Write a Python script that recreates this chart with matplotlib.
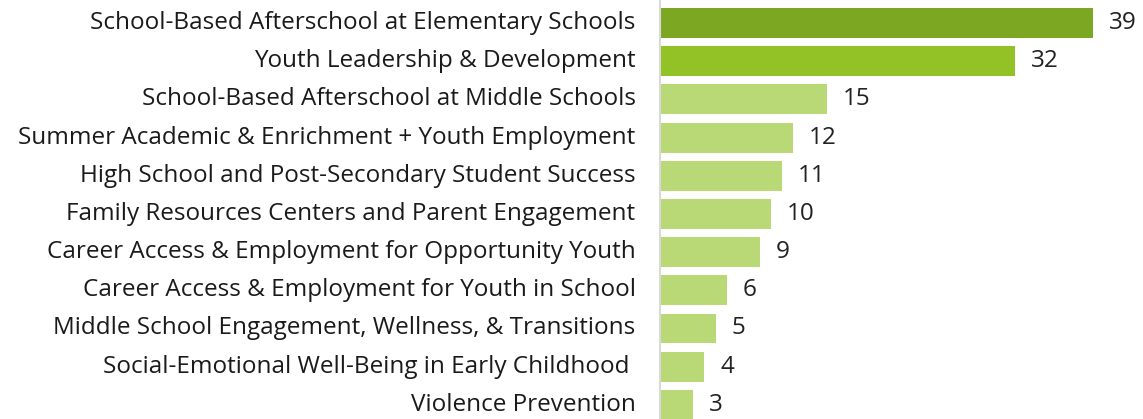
import matplotlib
matplotlib.use("Agg")
import matplotlib.pyplot as plt

# Data
programs = [
    "School-Based Afterschool at Elementary Schools",
    "Youth Leadership & Development",
    "School-Based Afterschool at Middle Schools",
    "Summer Academic & Enrichment + Youth Employment",
    "High School and Post-Secondary Student Success",
    "Family Resources Centers and Parent Engagement",
    "Career Access & Employment for Opportunity Youth",
    "Career Access & Employment for Youth in School",
    "Middle School Engagement, Wellness, & Transitions",
    "Social-Emotional Well-Being in Early Childhood ",
    "Violence Prevention",
]
counts = [39, 32, 15, 12, 11, 10, 9, 6, 5, 4, 3]
bar_colors = ["#7BA723", "#92C225"] + ["#B8D975"] * 9

plt.rcParams["font.family"] = ["Open Sans", "DejaVu Sans"]

fig = plt.figure(figsize=(11.43, 4.19), dpi=100)
ax = fig.add_axes([660 / 1143, 0, 1 - 660 / 1143, 1])

y = list(range(len(programs)))
ax.barh(y, counts, height=0.785, color=bar_colors)

# value labels at bar ends
for i, v in enumerate(counts):
    ax.text(v + 1.45, i, str(v), va="center", ha="left", fontsize=17.5, color="#222222")

# category labels to the left of the axis
for i, name in enumerate(programs):
    ax.text(-2.2, i, name, va="center", ha="right", fontsize=17.5, color="#1a1a1a")

ax.set_xlim(0, 483 / 11.1)
ax.set_ylim(10.37, -0.602)
ax.set_xticks([])
ax.set_yticks([])
for s in ["top", "right", "bottom"]:
    ax.spines[s].set_visible(False)
ax.spines["left"].set_color("#d9d9d9")
ax.spines["left"].set_linewidth(1.5)

fig.savefig("out.png", dpi=100)
